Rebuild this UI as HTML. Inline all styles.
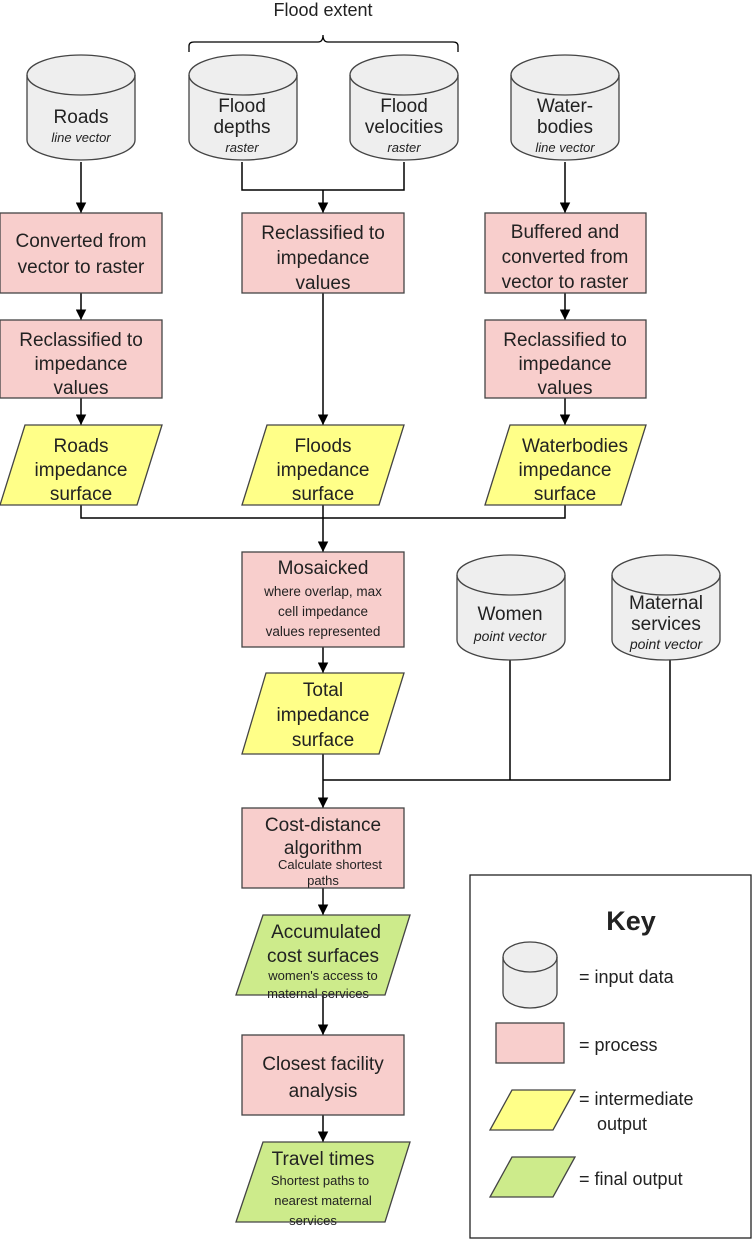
<!DOCTYPE html>
<html><head><meta charset="utf-8"><style>
html,body{margin:0;padding:0;background:#fff}
svg text{font-family:"Liberation Sans",Arial,sans-serif;fill:#222}
</style></head><body>
<svg width="755" height="1240" viewBox="0 0 755 1240" xmlns="http://www.w3.org/2000/svg">
<defs>
<marker id="a" viewBox="0 0 10 10" refX="10" refY="5" markerWidth="7" markerHeight="7" orient="auto"><path d="M0,0 L10,5 L0,10 z" fill="#000"/></marker>
<g id="cyl">
<path d="M0,20 A54,20 0 0 1 108,20 L108,85 A54,20 0 0 1 0,85 Z" fill="#eeeeee" stroke="#444" stroke-width="1.3"/>
<path d="M0,20 A54,20 0 0 0 108,20" fill="none" stroke="#444" stroke-width="1.3"/>
</g>
</defs>
<!-- key background first -->
<rect x="470" y="875" width="281" height="363" fill="#fff" stroke="#222" stroke-width="1.3"/>
<g stroke="#000" stroke-width="1.5" fill="none">
<line x1="81" y1="162" x2="81" y2="213" marker-end="url(#a)"/>
<polyline points="242,162 242,190 404,190 404,162"/>
<line x1="323" y1="190" x2="323" y2="213" marker-end="url(#a)"/>
<line x1="565" y1="162" x2="565" y2="213" marker-end="url(#a)"/>
<line x1="81" y1="293" x2="81" y2="320" marker-end="url(#a)"/>
<line x1="565" y1="293" x2="565" y2="320" marker-end="url(#a)"/>
<line x1="81" y1="398" x2="81" y2="425" marker-end="url(#a)"/>
<line x1="565" y1="398" x2="565" y2="425" marker-end="url(#a)"/>
<line x1="323" y1="293" x2="323" y2="425" marker-end="url(#a)"/>
<polyline points="81,505 81,518 565,518 565,505"/>
<line x1="323" y1="505" x2="323" y2="552" marker-end="url(#a)"/>
<line x1="323" y1="647" x2="323" y2="673" marker-end="url(#a)"/>
<line x1="323" y1="754" x2="323" y2="808" marker-end="url(#a)"/>
<polyline points="323,780 670,780 670,660"/>
<line x1="510" y1="660" x2="510" y2="780"/>
<line x1="323" y1="888" x2="323" y2="915" marker-end="url(#a)"/>
<line x1="323" y1="995" x2="323" y2="1035" marker-end="url(#a)"/>
<line x1="323" y1="1115" x2="323" y2="1142" marker-end="url(#a)"/>
<path d="M189,52 L189,46 Q189,42 194,42 L318,42 Q323,42 323,35 Q323,42 328,42 L453,42 Q458,42 458,46 L458,52" stroke-width="1.3"/>
</g>
<text x="323" y="16" font-size="18" text-anchor="middle">Flood extent</text>
<use href="#cyl" x="27" y="55"/>
<use href="#cyl" x="189" y="55"/>
<use href="#cyl" x="350" y="55"/>
<use href="#cyl" x="511" y="55"/>
<use href="#cyl" x="457" y="555"/>
<use href="#cyl" x="612" y="555"/>
<g font-size="19" text-anchor="middle">
<text x="81" y="123">Roads</text>
<text x="81" y="142" font-size="13" font-style="italic">line vector</text>
<text x="242" y="112">Flood</text><text x="242" y="133">depths</text>
<text x="242" y="152" font-size="13" font-style="italic">raster</text>
<text x="404" y="112">Flood</text><text x="404" y="133">velocities</text>
<text x="404" y="152" font-size="13" font-style="italic">raster</text>
<text x="565" y="112">Water-</text><text x="565" y="133">bodies</text>
<text x="565" y="152" font-size="13" font-style="italic">line vector</text>
<text x="510" y="620">Women</text>
<text x="510" y="641" font-size="14" font-style="italic">point vector</text>
<text x="666" y="609">Maternal</text><text x="666" y="630">services</text>
<text x="666" y="649" font-size="14" font-style="italic">point vector</text>
</g>
<g fill="#f8cecc" stroke="#444" stroke-width="1.3">
<rect x="0" y="213" width="162" height="80"/>
<rect x="242" y="213" width="162" height="80"/>
<rect x="485" y="213" width="161" height="80"/>
<rect x="0" y="320" width="162" height="78"/>
<rect x="485" y="320" width="161" height="78"/>
<rect x="242" y="552" width="162" height="95"/>
<rect x="242" y="808" width="162" height="80"/>
<rect x="242" y="1035" width="162" height="80"/>
<rect x="496" y="1023" width="68" height="40"/>
</g>
<g fill="#ffff88" stroke="#444" stroke-width="1.3">
<polygon points="25,425 162,425 137,505 0,505"/>
<polygon points="267,425 404,425 379,505 242,505"/>
<polygon points="510,425 646,425 621,505 485,505"/>
<polygon points="266,673 404,673 379,754 242,754"/>
<polygon points="512,1090 575,1090 553,1130 490,1130"/>
</g>
<g fill="#cdeb8b" stroke="#444" stroke-width="1.3">
<polygon points="263,915 410,915 385,995 236,995"/>
<polygon points="263,1142 410,1142 385,1222 236,1222"/>
<polygon points="512,1157 575,1157 553,1197 490,1197"/>
</g>
<g font-size="19" text-anchor="middle">
<text x="81" y="247">Converted from</text><text x="81" y="273">vector to raster</text>
<text x="81" y="346">Reclassified to</text><text x="81" y="370">impedance</text><text x="81" y="394">values</text>
<text x="323" y="239">Reclassified to</text><text x="323" y="264">impedance</text><text x="323" y="289">values</text>
<text x="565" y="238">Buffered and</text><text x="565" y="263">converted from</text><text x="565" y="288">vector to raster</text>
<text x="565" y="346">Reclassified to</text><text x="565" y="370">impedance</text><text x="565" y="394">values</text>
<text x="81" y="452">Roads</text><text x="81" y="476">impedance</text><text x="81" y="500">surface</text>
<text x="323" y="452">Floods</text><text x="323" y="476">impedance</text><text x="323" y="500">surface</text>
<text x="575" y="452">Waterbodies</text><text x="565" y="476">impedance</text><text x="565" y="500">surface</text>
<text x="323" y="574">Mosaicked</text>
<text x="323" y="596" font-size="13.5">where overlap, max</text>
<text x="323" y="616" font-size="13.5">cell impedance</text>
<text x="323" y="636" font-size="13.5">values represented</text>
<text x="323" y="696">Total</text><text x="323" y="721">impedance</text><text x="323" y="746">surface</text>
<text x="323" y="831">Cost-distance</text><text x="323" y="854">algorithm</text>
<text x="330" y="869" font-size="13">Calculate shortest</text><text x="323" y="885" font-size="13">paths</text>
<text x="326" y="938">Accumulated</text><text x="323" y="962">cost surfaces</text>
<text x="323" y="980" font-size="13">women's access to</text><text x="318" y="998" font-size="13">maternal services</text>
<text x="323" y="1070">Closest facility</text><text x="323" y="1097">analysis</text>
<text x="323" y="1165">Travel times</text>
<text x="320" y="1185" font-size="13">Shortest paths to</text><text x="323" y="1205" font-size="13">nearest maternal</text><text x="313" y="1225" font-size="13">services</text>
</g>
<text x="631" y="930" font-size="27" font-weight="bold" text-anchor="middle" fill="#000">Key</text>
<path d="M503,957 A27,15 0 0 1 557,957 L557,993 A27,15 0 0 1 503,993 Z" fill="#eeeeee" stroke="#444" stroke-width="1.3"/>
<path d="M503,957 A27,15 0 0 0 557,957" fill="none" stroke="#444" stroke-width="1.3"/>
<g font-size="18">
<text x="579" y="983">= input data</text>
<text x="579" y="1051">= process</text>
<text x="579" y="1105">= intermediate</text>
<text x="597" y="1130">output</text>
<text x="579" y="1185">= final output</text>
</g>
</svg>
</body></html>
